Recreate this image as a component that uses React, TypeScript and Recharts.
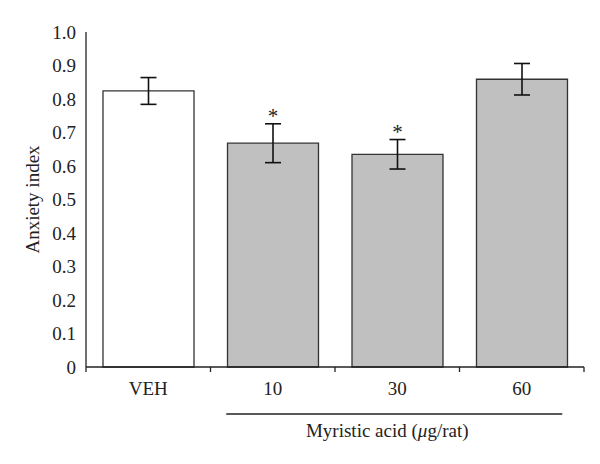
import React from "react";
import { BarChart, Bar, XAxis, YAxis, ErrorBar, Cell, LabelList } from "recharts";

const FONT = '"Liberation Serif", "DejaVu Serif", serif';
const INK = "#222222";
const FS = 19;

// values
const groups = ["VEH", "10", "30", "60"];
const anxiety = [0.824, 0.668, 0.635, 0.859];
const sem = [0.04, 0.058, 0.044, 0.047];
const marks = ["", "*", "*", ""];
const fills = ["#ffffff", "#c0c0c0", "#c0c0c0", "#c0c0c0"];
const yTicks = [0, 0.1, 0.2, 0.3, 0.4, 0.5, 0.6, 0.7, 0.8, 0.9, 1.0];

// doses grouped under one bracket
const bracketGroups = ["10", "60"];
const bracketLabel = "Myristic acid (";

// layout
const W = 600;
const H = 464;
const MARGIN = { top: 32, right: 16, left: 0, bottom: 0 };
const Y_W = 86;
const X_H = 97;
const BAR = 91;
const TICK_GAP = 15;
const band = (W - MARGIN.left - MARGIN.right - Y_W) / groups.length;

const data = groups.map((name, i) => ({
  name,
  value: anxiety[i],
  err: sem[i],
  mark: marks[i],
}));

const Star = (props: any) => {
  const vb = props.viewBox ?? props;
  const { x, y, width, height } = vb;
  const i = props.index;
  if (i == null || !marks[i]) return null;
  const errPx = (sem[i] * height) / anxiety[i];
  return (
    <text
      x={x + width / 2}
      y={y - errPx - 1}
      textAnchor="middle"
      fontSize={21}
      fontFamily={FONT}
      fill={INK}
    >
      {marks[i]}
    </text>
  );
};

const YLabel = (props: any) => {
  const vb = props.viewBox;
  const cx = vb.x + 32;
  const cy = vb.y + vb.height / 2;
  return (
    <text
      x={cx}
      y={cy}
      transform={`rotate(-90, ${cx}, ${cy})`}
      textAnchor="middle"
      dominantBaseline="central"
      fontSize={FS}
      fontFamily={FONT}
      fill={INK}
    >
      Anxiety index
    </text>
  );
};

// category label + boundary tick marks + the dose bracket
const XTick = (props: any) => {
  const { x, y, payload, index } = props;
  const axisY = y - TICK_GAP;
  const left = x - band / 2;
  const last = index === groups.length - 1;
  const from = groups.indexOf(bracketGroups[0]);
  const to = groups.indexOf(bracketGroups[1]);
  let bracket = null;
  if (index === from) {
    const x1 = x - BAR / 2 - 1;
    const x2 = x + (to - from) * band + BAR / 2 - 5;
    const ly = axisY + 47;
    bracket = (
      <g>
        <line x1={x1} y1={ly} x2={x2} y2={ly} stroke={INK} strokeWidth={1.3} />
        <text
          x={(x1 + x2) / 2 - 7}
          y={ly + 23}
          textAnchor="middle"
          fontSize={FS}
          fontFamily={FONT}
          fill={INK}
        >
          {bracketLabel}
          <tspan fontStyle="italic">μ</tspan>g/rat)
        </text>
      </g>
    );
  }
  return (
    <g>
      <line x1={left} y1={axisY} x2={left} y2={axisY + 5} stroke={INK} strokeWidth={1.3} />
      {last && (
        <line
          x1={x + band / 2}
          y1={axisY}
          x2={x + band / 2}
          y2={axisY + 5}
          stroke={INK}
          strokeWidth={1.3}
        />
      )}
      <text
        x={x}
        y={y}
        dy="0.71em"
        textAnchor="middle"
        fontSize={FS}
        fontFamily={FONT}
        fill={INK}
      >
        {payload.value}
      </text>
      {bracket}
    </g>
  );
};

export default function App() {
  return (
    <div style={{ position: "absolute", left: 0, top: 0, background: "#fff" }}>
      <BarChart width={W} height={H} data={data} margin={MARGIN}>
        <XAxis
          dataKey="name"
          interval={0}
          tickLine={false}
          tickSize={0}
          tickMargin={TICK_GAP}
          height={X_H}
          stroke={INK}
          strokeWidth={1.3}
          tick={<XTick />}
        />
        <YAxis
          width={Y_W}
          domain={[0, 1]}
          ticks={yTicks}
          interval={0}
          tickLine={false}
          tickSize={0}
          tickMargin={10}
          stroke={INK}
          strokeWidth={1.3}
          tickFormatter={(v: number) => (v === 0 ? "0" : v.toFixed(1))}
          tick={{
            fontSize: FS,
            fontFamily: FONT,
            fill: INK,
            verticalAnchor: "end",
          }}
          label={<YLabel />}
        />
        <Bar
          dataKey="value"
          barSize={BAR}
          stroke="#333"
          strokeWidth={1.3}
          isAnimationActive={false}
        >
          {data.map((d, i) => (
            <Cell key={d.name} fill={fills[i]} />
          ))}
          <ErrorBar
            dataKey="err"
            width={8}
            stroke="#111"
            strokeWidth={1.6}
            direction="y"
            isAnimationActive={false}
          />
          <LabelList dataKey="mark" content={<Star />} />
        </Bar>
      </BarChart>
    </div>
  );
}
